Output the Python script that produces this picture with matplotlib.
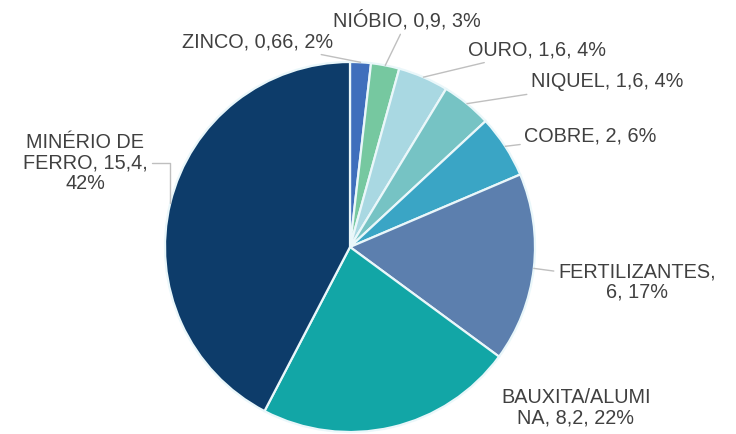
import numpy as np
import matplotlib
matplotlib.use("Agg")
import matplotlib.pyplot as plt

# dados (bilhões US$)
nomes = ["ZINCO", "NIÓBIO", "OURO", "NIQUEL", "COBRE",
         "FERTILIZANTES", "BAUXITA/ALUMINA", "MINÉRIO DE FERRO"]
valores = [0.66, 0.9, 1.6, 1.6, 2, 6, 8.2, 15.4]
percentuais = [2, 3, 4, 4, 6, 17, 22, 42]

cores = ["#3f6fbc", "#76c8a0", "#a9d8e2", "#76c3c4", "#3aa5c5",
         "#5c7fae", "#12a6a6", "#0d3c6a"]

# posição dos rótulos (coordenadas do eixo, raio = 1)
pos_rotulos = [(-0.50, 1.108), (0.31, 1.227), (1.01, 1.065), (1.39, 0.892),
               (1.30, 0.60), (1.55, -0.19), (1.22, -0.87), (-1.43, 0.454)]
# quebras de linha como no Excel
quebras = {"FERTILIZANTES": "FERTILIZANTES,\n{v}, {p}%",
           "BAUXITA/ALUMINA": "BAUXITA/ALUMI\nNA, {v}, {p}%",
           "MINÉRIO DE FERRO": "MINÉRIO DE\nFERRO, {v},\n{p}%"}
sem_linha = ["BAUXITA/ALUMINA"]
cotovelo = ["MINÉRIO DE FERRO"]

plt.rcParams['font.family'] = ['Liberation Sans', 'DejaVu Sans']

fig = plt.figure(figsize=(7.36, 4.34), dpi=100)
# centro do pie em (350, 247) px, raio 185 px
ax = fig.add_axes([(350 - 185) / 736, (434 - 247 - 185) / 434, 370 / 736, 370 / 434])

wedges, _ = ax.pie(valores, colors=cores, startangle=90, counterclock=False,
                   wedgeprops=dict(edgecolor="#eaf7fa", linewidth=1.6))
ax.set_xlim(-1, 1)
ax.set_ylim(-1, 1)
ax.set_aspect('equal')
ax.axis('off')

for w, nome, v, p, (tx, ty) in zip(wedges, nomes, valores, percentuais, pos_rotulos):
    vtxt = f"{v:g}".replace('.', ',')
    if nome in quebras:
        texto = quebras[nome].format(v=vtxt, p=p)
    else:
        texto = f"{nome}, {vtxt}, {p}%"
    ang = np.deg2rad((w.theta1 + w.theta2) / 2)
    borda = (np.cos(ang), np.sin(ang))
    estilo = dict(ha='center', va='center', fontsize=14.3, color='#404040',
                  linespacing=1.1)
    if nome in sem_linha:
        ax.text(tx, ty, texto, **estilo)
        continue
    seta = dict(arrowstyle='-', color='#bfbfbf', lw=1.0, shrinkA=1, shrinkB=0)
    if nome in cotovelo:
        seta['connectionstyle'] = "angle,angleA=0,angleB=90,rad=0"
    ax.annotate(texto, xy=borda, xytext=(tx, ty), arrowprops=seta, **estilo)

fig.savefig("out.png", dpi=100, facecolor='white')
